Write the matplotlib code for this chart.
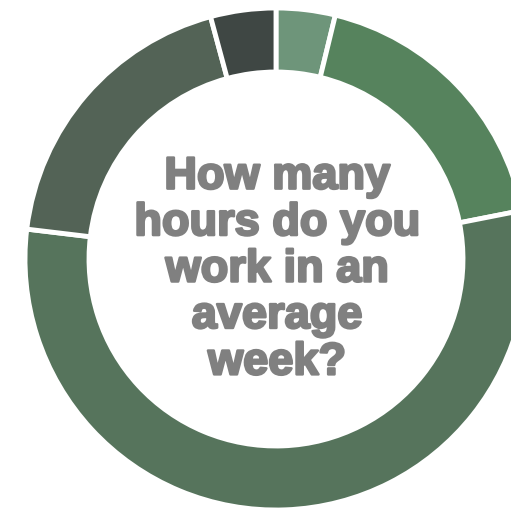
import matplotlib
matplotlib.use("Agg")
import matplotlib.pyplot as plt
import matplotlib.patheffects as pe

shares = [3.8, 18.1, 55.0, 18.9, 4.2]
colors = ['#6e957a', '#56835d', '#56745c', '#536356', '#3f4744']
title = "How many\nhours do you\nwork in an\naverage\nweek?"

fig = plt.figure(figsize=(5.11, 5.12), dpi=100)
ax = fig.add_axes([0, 0, 1, 1])

ax.pie(shares, colors=colors, startangle=90, counterclock=False,
       center=(276, 253), radius=251, frame=True,
       wedgeprops=dict(width=64, edgecolor='white', linewidth=3.5))
ax.set_xlim(0, 511)
ax.set_ylim(0, 512)
ax.axis('off')

ax.text(277, 242, title, ha='center', va='center', fontsize=32.5,
        fontweight='bold', family='Liberation Sans', color='#808080',
        linespacing=1.17,
        path_effects=[pe.withStroke(linewidth=1.8, foreground='#808080')])

fig.savefig('out.png', dpi=100)
